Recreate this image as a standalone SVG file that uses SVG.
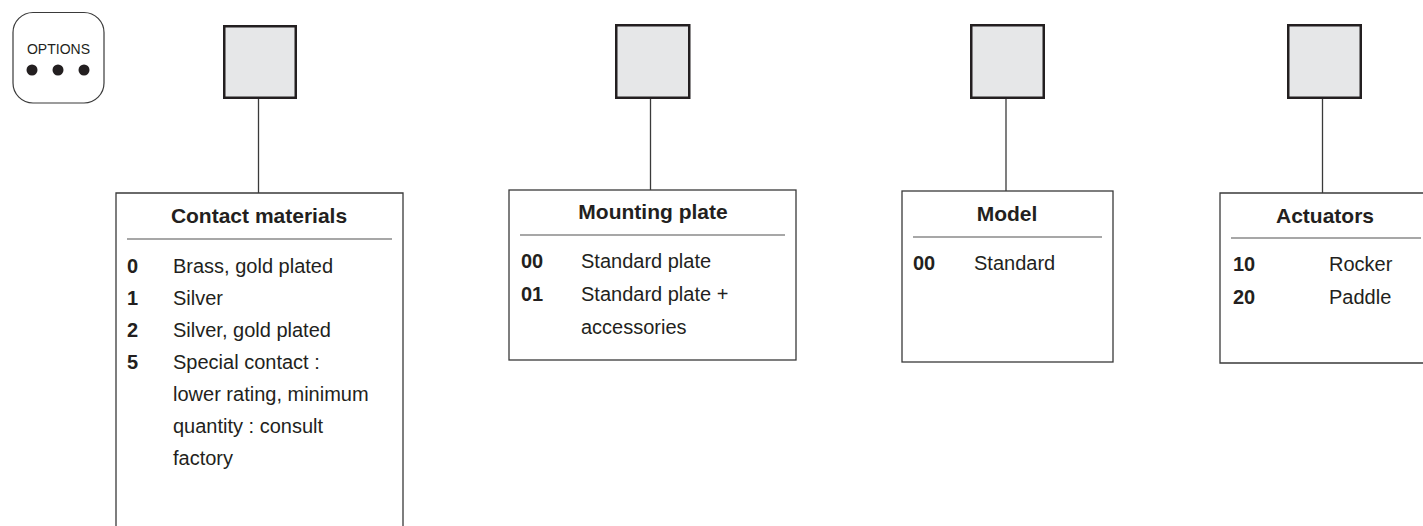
<svg xmlns="http://www.w3.org/2000/svg" width="1423" height="526" viewBox="0 0 1423 526">
<style>
.bg{fill:#ffffff}
.sq{fill:#e6e7e8;stroke:#231f20;stroke-width:2.5}
.box{fill:#ffffff;stroke:#3a3a3a;stroke-width:1.3}
.sep{stroke:#8a8a8a;stroke-width:1.5}
.conn{stroke:#3a3a3a;stroke-width:1.3;fill:none}
.title{font-family:"Liberation Sans",Arial,sans-serif;font-size:21px;font-weight:bold;fill:#231f20;text-anchor:middle}
.num{font-family:"Liberation Sans",Arial,sans-serif;font-size:20px;font-weight:bold;fill:#231f20}
.txt{font-family:"Liberation Sans",Arial,sans-serif;font-size:20px;fill:#231f20}
.opt{font-family:"Liberation Sans",Arial,sans-serif;font-size:14px;fill:#231f20;text-anchor:middle}
</style>
<rect class="bg" x="0" y="0" width="1423" height="526"/>

<g id="options">
  <rect x="13" y="12.5" width="91" height="90.5" rx="20" ry="20" fill="#ffffff" stroke="#3a3a3a" stroke-width="1.2"/>
  <text class="opt" x="58.5" y="54">OPTIONS</text>
  <circle cx="32" cy="70" r="5.5" fill="#231f20"/>
  <circle cx="58" cy="70" r="5.5" fill="#231f20"/>
  <circle cx="84" cy="70" r="5.5" fill="#231f20"/>
</g>

<g id="connectors">
  <line class="conn" x1="258.5" y1="99" x2="258.5" y2="193"/>
  <line class="conn" x1="650.5" y1="99" x2="650.5" y2="190"/>
  <line class="conn" x1="1006" y1="99" x2="1006" y2="191"/>
  <line class="conn" x1="1322.5" y1="99" x2="1322.5" y2="193"/>
</g>

<g id="square1"><rect class="sq" x="224.25" y="26.25" width="71.5" height="71.5"/></g>
<g id="square2"><rect class="sq" x="616.25" y="25.25" width="73" height="72.5"/></g>
<g id="square3"><rect class="sq" x="971.25" y="25.25" width="72.5" height="72.5"/></g>
<g id="square4"><rect class="sq" x="1288.25" y="25.25" width="72.5" height="72.5"/></g>

<g id="contact-materials">
  <path class="box" d="M116,530 V193 H403 V530"/>
  <text class="title" x="259" y="223">Contact materials</text>
  <line class="sep" x1="127" y1="239" x2="392" y2="239"/>
  <text class="num" x="127" y="273">0</text>
  <text class="txt" x="173" y="273">Brass, gold plated</text>
  <text class="num" x="127" y="305">1</text>
  <text class="txt" x="173" y="305">Silver</text>
  <text class="num" x="127" y="337">2</text>
  <text class="txt" x="173" y="337">Silver, gold plated</text>
  <text class="num" x="127" y="369">5</text>
  <text class="txt" x="173" y="369">Special contact :</text>
  <text class="txt" x="173" y="401">lower rating, minimum</text>
  <text class="txt" x="173" y="433">quantity : consult</text>
  <text class="txt" x="173" y="465">factory</text>
</g>

<g id="mounting-plate">
  <rect class="box" x="509" y="190" width="287" height="170"/>
  <text class="title" x="653" y="219">Mounting plate</text>
  <line class="sep" x1="520" y1="235" x2="785" y2="235"/>
  <text class="num" x="521" y="268">00</text>
  <text class="txt" x="581" y="268">Standard plate</text>
  <text class="num" x="521" y="301">01</text>
  <text class="txt" x="581" y="301">Standard plate +</text>
  <text class="txt" x="581" y="334">accessories</text>
</g>

<g id="model">
  <rect class="box" x="902" y="191" width="211" height="171"/>
  <text class="title" x="1007" y="221">Model</text>
  <line class="sep" x1="913" y1="237" x2="1102" y2="237"/>
  <text class="num" x="913" y="270">00</text>
  <text class="txt" x="974" y="270">Standard</text>
</g>

<g id="actuators">
  <path class="box" d="M1430,193 H1220 V363 H1430"/>
  <text class="title" x="1325" y="223">Actuators</text>
  <line class="sep" x1="1231" y1="238" x2="1421" y2="238"/>
  <text class="num" x="1233" y="271">10</text>
  <text class="txt" x="1329" y="271">Rocker</text>
  <text class="num" x="1233" y="304">20</text>
  <text class="txt" x="1329" y="304">Paddle</text>
</g>
</svg>
